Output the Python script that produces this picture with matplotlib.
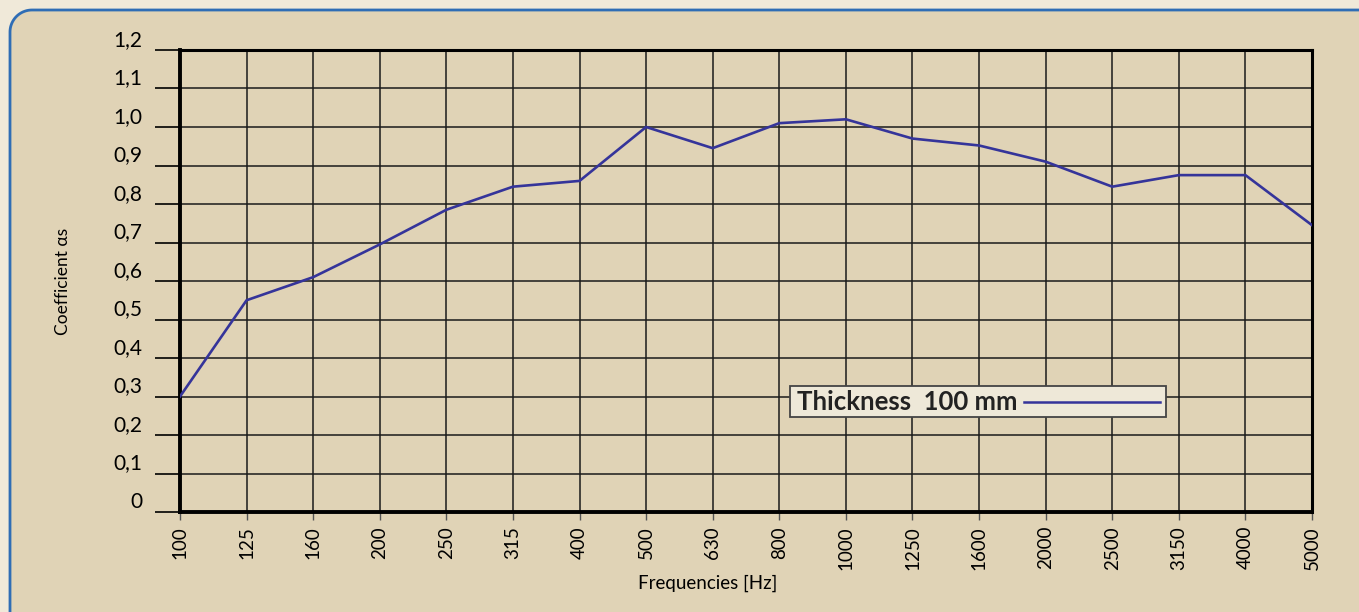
import matplotlib
matplotlib.use("Agg")
import numpy as np
import matplotlib.pyplot as plt
from matplotlib.patches import FancyBboxPatch, Polygon
from matplotlib.lines import Line2D
from matplotlib.transforms import Affine2D

plt.rcParams['font.family'] = ['Lato', 'DejaVu Sans']

frequencies = ["100", "125", "160", "200", "250", "315", "400", "500", "630", "800",
               "1000", "1250", "1600", "2000", "2500", "3150", "4000", "5000"]
alpha_s = [0.30, 0.55, 0.61, 0.695, 0.785, 0.845, 0.86, 1.00, 0.945, 1.01,
           1.02, 0.97, 0.952, 0.91, 0.845, 0.875, 0.875, 0.745]
y_ticks = [0, 0.1, 0.2, 0.3, 0.4, 0.5, 0.6, 0.7, 0.8, 0.9, 1.0, 1.1, 1.2]
y_labels = ["0", "0,1", "0,2", "0,3", "0,4", "0,5", "0,6", "0,7", "0,8", "0,9", "1,0", "1,1", "1,2"]
series_label = "Thickness  100 mm"

W, H = 1359, 612
PANEL = "#E0D3B6"
OUTER = "#F0E9D9"
fig = plt.figure(figsize=(W / 100, H / 100), dpi=100)
fig.patch.set_facecolor(PANEL)

# pixel coordinate transform (y up)
px = Affine2D().scale(1 / 100) + fig.dpi_scale_trans

# panel border: left + top edges with a rounded top-left corner
r = 22
left_x, top_y = 10, H - 10
theta = np.linspace(np.pi, np.pi / 2, 20)
arc_x = (left_x + r) + r * np.cos(theta)
arc_y = (top_y - r) + r * np.sin(theta)
bx = np.concatenate([[left_x], arc_x, [W + 50]])
by = np.concatenate([[-50], arc_y, [top_y]])
outer_poly = Polygon(np.column_stack([np.concatenate([[-50], bx, [W + 50, -50]]),
                                      np.concatenate([[-50], by, [H + 50, H + 50]])]),
                     closed=True, transform=px, facecolor=OUTER, edgecolor="none", zorder=-10)
fig.patches.append(outer_poly)
fig.lines.append(Line2D(bx, by, transform=px, color="#2F6DB5", linewidth=2.0, zorder=-9))

ax = fig.add_axes([180 / W, 1 - 512 / H, (1312 - 180) / W, (512 - 50) / H])
ax.set_zorder(1)
ax.set_facecolor("none")

x = list(range(len(frequencies)))
ax.plot(x, alpha_s, color="#35349A", linewidth=1.9, zorder=3)

ax.set_xlim(0, len(frequencies) - 1)
ax.set_ylim(0, 1.2)
ax.set_xticks(x)
ax.set_xticklabels(frequencies, rotation=90, fontsize=13.5)
ax.set_yticks(y_ticks)
ax.set_yticklabels(y_labels, fontsize=15)
ax.tick_params(axis="y", length=18, width=1.2, color="black", pad=9)
ax.tick_params(axis="x", length=6, width=1.0, color="#555555", pad=4)
for lbl in ax.get_yticklabels():
    lbl.set_verticalalignment("bottom")

ax.grid(True, color="#1a1a1a", linewidth=1.1, zorder=1)
ax.set_axisbelow(True)
for side, sp in ax.spines.items():
    sp.set_color("black")
    sp.set_linewidth(2.2)
ax.spines["left"].set_linewidth(2.8)
ax.spines["bottom"].set_linewidth(2.8)

ax.set_xlabel("Frequencies [Hz]", fontsize=13.5)
ax.xaxis.set_label_coords((708 - 180) / 1132, (512 - 575) / 462)
ax.set_ylabel("Coefficient \u03b1s", fontsize=12.5)
ax.yaxis.set_label_coords((71 - 180) / 1132, 0.5)

# legend box
leg_x0, leg_x1 = 790 / W, 1166 / W
leg_y0, leg_y1 = 1 - 417 / H, 1 - 386 / H
box = FancyBboxPatch((leg_x0, leg_y0), leg_x1 - leg_x0, leg_y1 - leg_y0,
                     boxstyle="square,pad=0", transform=fig.transFigure,
                     facecolor="#EEE8D8", edgecolor="#444444", linewidth=1.3, zorder=5)
fig.patches.append(box)
fig.text(797 / W, (leg_y0 + leg_y1) / 2, series_label, fontsize=18.5, fontweight="bold",
         color="#222222", va="center", ha="left", zorder=6)
fig.lines.append(Line2D([1024 / W, 1160 / W], [1 - 402 / H, 1 - 402 / H],
                        transform=fig.transFigure, color="#35349A", linewidth=1.8, zorder=6))

fig.savefig("out.png", dpi=100, facecolor=fig.get_facecolor())
